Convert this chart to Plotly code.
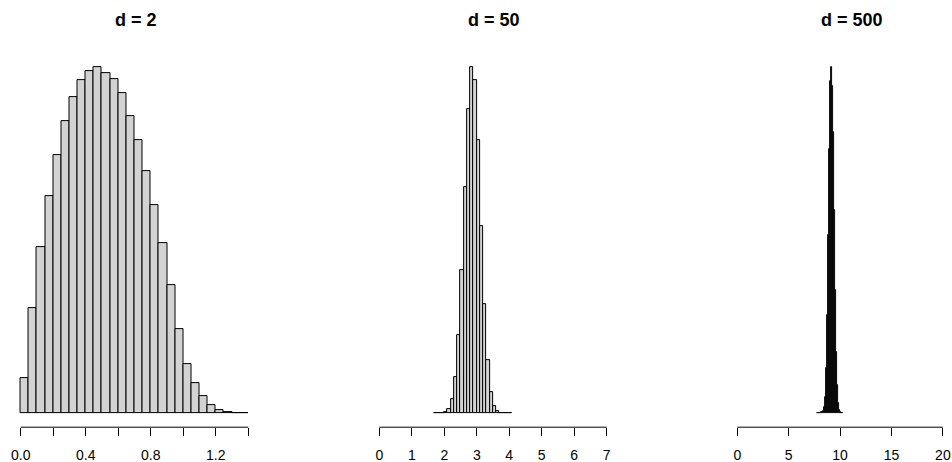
import numpy as np
import plotly.graph_objects as go

# ---------------- data ----------------
titles = ["d = 2", "d = 50", "d = 500"]
dims = [2, 50, 500]

# panel 1: bins of width 0.05 starting at 0.0
start1, binw1 = 0.0, 0.05
freq1 = [107, 317, 499, 652, 775, 877, 950, 1000, 1027, 1039, 1022, 1002, 960, 892,
         819, 726, 626, 512, 385, 254, 147, 91, 52, 26, 10, 3, 1, 1]

# panel 2: bins of width 0.1 starting at 1.7
start2, binw2 = 1.7, 0.1
freq2 = [1, 1, 2, 5, 13, 42, 108, 235, 429, 680, 912, 1040, 1000, 820, 561, 327,
         161, 64, 23, 7, 2, 1, 1, 1]

# panel 3: bins of width 0.1 starting at 7.8
start3, binw3 = 7.8, 0.1
freq3 = [0.5, 1, 1, 2, 4, 8, 18, 48, 135, 295, 535, 795, 1000, 1042, 985, 845, 610,
         370, 185, 85, 32, 11, 4, 2, 1]

ticks1 = [0.0, 0.2, 0.4, 0.6, 0.8, 1.0, 1.2, 1.4]
labels1 = ["0.0", "", "0.4", "", "0.8", "", "1.2", ""]
ticks2 = [0, 1, 2, 3, 4, 5, 6, 7]
labels2 = ["0", "1", "2", "3", "4", "5", "6", "7"]
ticks3 = [0, 5, 10, 15, 20]
labels3 = ["0", "5", "10", "15", "20"]

# ---------------- layout geometry ----------------
W, H = 952, 462
origin_px = [20.7, 379.3, 737.3]      # pixel of x = 0 in each panel
scale_px = [162.57, 32.49, 10.28]     # pixels per x unit
top_px, bot_px = 53.1, 427.2

panels = [
    (start1, binw1, freq1, ticks1, labels1),
    (start2, binw2, freq2, ticks2, labels2),
    (start3, binw3, freq3, ticks3, labels3),
]

fig = go.Figure()
font_family = "Liberation Sans, Arial, Helvetica, sans-serif"
ydom = [1 - bot_px / H, 1 - top_px / H]

for i, (st, bw, fr, tv, tt) in enumerate(panels):
    k = i + 1
    xs = "x" if k == 1 else f"x{k}"
    ys = "y" if k == 1 else f"y{k}"
    lefts = st + bw * np.arange(len(fr))
    centers = lefts + bw / 2
    fig.add_trace(go.Bar(
        x=centers, y=fr, width=[bw] * len(fr),
        marker=dict(color="#D3D3D3", line=dict(color="black", width=1)),
        xaxis=xs, yaxis=ys, showlegend=False, hoverinfo="x+y",
    ))
    xmax = np.sqrt(dims[i])
    pad = 0.04 * xmax
    o, s = origin_px[i], scale_px[i]
    left_px = o - pad * s
    right_px = min(o + (xmax + pad) * s, W)
    xr = [(left_px - o) / s, (right_px - o) / s]
    M = max(fr)
    xa = dict(domain=[left_px / W, right_px / W], range=xr, anchor=ys,
              showgrid=False, zeroline=False, showline=False,
              ticks="outside", ticklen=8, tickwidth=1, tickcolor="black",
              tickmode="array", tickvals=tv, ticktext=tt,
              ticklabelstandoff=7,
              tickfont=dict(family=font_family, size=14, color="black"),
              fixedrange=True)
    ya = dict(domain=ydom, range=[-0.04 * M, 1.04 * M], anchor=xs,
              showgrid=False, zeroline=False, showline=False,
              showticklabels=False, ticks="", fixedrange=True)
    fig.layout["xaxis" if k == 1 else f"xaxis{k}"] = xa
    fig.layout["yaxis" if k == 1 else f"yaxis{k}"] = ya
    # axis line from first to last tick (R style)
    fig.add_shape(type="line", xref=xs, yref="paper",
                  x0=tv[0], x1=tv[-1], y0=ydom[0], y1=ydom[0],
                  line=dict(color="black", width=1), layer="above")
    # title
    fig.add_annotation(text=f"<b>{titles[i]}</b>", xref=xs, yref="paper",
                       x=xmax / 2, y=1 - 19.7 / H, xanchor="center", yanchor="middle",
                       showarrow=False,
                       font=dict(family=font_family, size=18, color="black"))

fig.update_layout(
    width=W, height=H, autosize=False,
    margin=dict(l=0, r=0, t=0, b=0, pad=0),
    paper_bgcolor="white", plot_bgcolor="white",
    bargap=0, barmode="overlay",
)

fig.write_html("out.html", config={"displayModeBar": False},
               post_script="document.body.style.margin='0';document.body.style.padding='0';")
